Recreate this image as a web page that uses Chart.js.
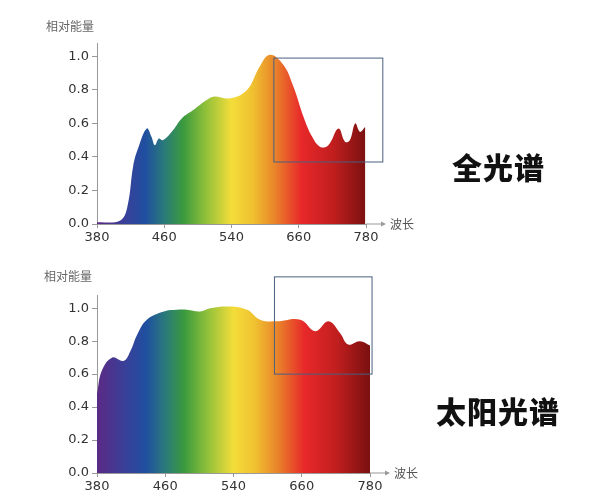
<!DOCTYPE html>
<html lang="zh-CN">
<head>
<meta charset="UTF-8">
<title>全光谱 / 太阳光谱</title>
<script src="https://cdn.jsdelivr.net/npm/chart.js"></script>
<style>
  body { margin: 0; background: #fff; font-family: "Noto Sans CJK SC", sans-serif; }
  #wrap { position: relative; width: 600px; height: 500px; }
  canvas { position: absolute; left: 0; }
  .ylab { position: absolute; font-size: 12px; color: #666; }
  .big { position: absolute; font-size: 30px; font-weight: 900; color: #111; letter-spacing: 1px; }
</style>
</head>
<body>
<div id="wrap">
  <canvas id="topChart" width="600" height="250" style="top:0"></canvas>
  <canvas id="sunChart" width="600" height="245" style="top:255px"></canvas>
  <div class="ylab" style="left:46px;top:17px">相对能量</div>
  <div class="ylab" style="left:44px;top:267px">相对能量</div>
  <div class="big" style="left:452px;top:144px">全光谱</div>
  <div class="big" style="left:436px;top:388px">太阳光谱</div>
</div>
<script>
// x positions are in tick-slot units (0 = 380, 4 = 780, labels evenly spaced)
const tickLabels = ['380', '460', '540', '660', '780'];
const yTicks = [0, 0.2, 0.4, 0.6, 0.8, 1.0];

// 全光谱
const fullX = [0, 0.34, 0.45, 0.54, 0.61, 0.74, 0.81, 0.86, 0.92, 0.98, 1.13, 1.26, 1.43, 1.63, 1.73, 1.98, 2.23, 2.42, 2.57, 2.77, 2.92, 3.07, 3.2, 3.32, 3.44, 3.59, 3.69, 3.76, 3.84, 3.91, 3.99];
const fullY = [0.01, 0.02, 0.1, 0.35, 0.45, 0.57, 0.52, 0.47, 0.51, 0.5, 0.56, 0.63, 0.68, 0.74, 0.76, 0.75, 0.8, 0.94, 1.01, 0.95, 0.82, 0.64, 0.52, 0.46, 0.47, 0.57, 0.49, 0.5, 0.6, 0.55, 0.58];
const fullBox = [2.63, 4.25, 0.37, 0.99];

// 太阳光谱
const sunX = [0, 0.07, 0.22, 0.39, 0.49, 0.59, 0.73, 0.98, 1.17, 1.32, 1.51, 1.66, 1.95, 2.2, 2.39, 2.63, 2.98, 3.2, 3.39, 3.56, 3.68, 3.85, 4.02];
const sunY = [0.48, 0.62, 0.7, 0.68, 0.74, 0.84, 0.93, 0.98, 0.99, 0.99, 0.98, 1.0, 1.01, 0.99, 0.93, 0.92, 0.93, 0.86, 0.92, 0.85, 0.78, 0.8, 0.77];
const sunBox = [2.6, 4.03, 0.6, 1.19];

const stops = [
  [0, '#5b2a86'], [0.1, '#3a3f98'], [0.18, '#1f4fa0'], [0.25, '#2a7a7a'],
  [0.32, '#3a9a3e'], [0.4, '#8cbf3a'], [0.5, '#f3dd3a'], [0.58, '#f0c030'],
  [0.66, '#e9852a'], [0.76, '#e8282a'], [0.88, '#c01e1e'], [1, '#7a1010']
];

function rainbow(ctx) {
  const area = ctx.chart.chartArea;
  if (!area) return '#f3dd3a';
  const g = ctx.chart.ctx.createLinearGradient(area.left, 0, area.right, 0);
  stops.forEach(s => g.addColorStop(s[0], s[1]));
  return g;
}

const extras = {
  id: 'extras',
  afterDraw(chart) {
    const c = chart.ctx, a = chart.chartArea;
    const xs = chart.scales.x, ys = chart.scales.y;
    c.save();
    // axis arrow + label
    c.strokeStyle = '#999'; c.lineWidth = 1;
    c.beginPath(); c.moveTo(a.right, a.bottom); c.lineTo(a.right + 18, a.bottom); c.stroke();
    c.fillStyle = '#999';
    c.beginPath(); c.moveTo(a.right + 20, a.bottom); c.lineTo(a.right + 15, a.bottom - 2.5); c.lineTo(a.right + 15, a.bottom + 2.5); c.fill();
    c.fillStyle = '#555'; c.font = '12px "Noto Sans CJK SC"'; c.textBaseline = 'middle';
    c.fillText('波长', a.right + 24, a.bottom);
    // highlight box
    const b = chart.options.plugins.extras.box;
    const x1 = xs.getPixelForValue(b[0]), x2 = xs.getPixelForValue(b[1]);
    const y1 = ys.getPixelForValue(b[3]), y2 = ys.getPixelForValue(b[2]);
    c.strokeStyle = '#4a6080'; c.lineWidth = 1;
    c.strokeRect(x1, y1, x2 - x1, y2 - y1);
    c.restore();
  }
};

function makeChart(id, xs, ys, box, padTop, padRight, xHeight) {
  new Chart(document.getElementById(id), {
    type: 'line',
    data: {
      datasets: [{
        data: xs.map((x, i) => ({ x: x, y: ys[i] })),
        fill: 'origin',
        backgroundColor: rainbow,
        borderWidth: 0,
        pointRadius: 0,
        tension: 0.4
      }]
    },
    options: {
      responsive: false,
      animation: false,
      layout: { padding: { top: padTop, right: padRight, left: 0, bottom: 0 } },
      plugins: { legend: { display: false }, tooltip: { enabled: false }, extras: { box: box } },
      scales: {
        x: {
          type: 'linear', min: 0, max: 4,
          afterFit: s => { s.height = xHeight; },
          afterBuildTicks: s => { s.ticks = tickLabels.map((t, i) => ({ value: i })); },
          ticks: { callback: v => tickLabels[v], color: '#333', font: { family: 'DejaVu Sans', size: 13 }, maxRotation: 0, padding: 2 },
          grid: { drawOnChartArea: false, tickLength: 4, color: '#999' },
          border: { color: '#999' }
        },
        y: {
          min: 0, max: 1.08,
          afterFit: s => { s.width = 97; },
          afterBuildTicks: s => { s.ticks = yTicks.map(v => ({ value: v })); },
          ticks: { callback: v => v.toFixed(1), color: '#333', font: { family: 'DejaVu Sans', size: 13 }, padding: 3 },
          grid: { drawOnChartArea: false, tickLength: 5, color: '#999' },
          border: { color: '#999' }
        }
      }
    },
    plugins: [extras]
  });
}

makeChart('topChart', fullX, fullY, fullBox, 43, 234, 26);
makeChart('sunChart', sunX, sunY, sunBox, 40, 230, 27);
</script>
</body>
</html>
